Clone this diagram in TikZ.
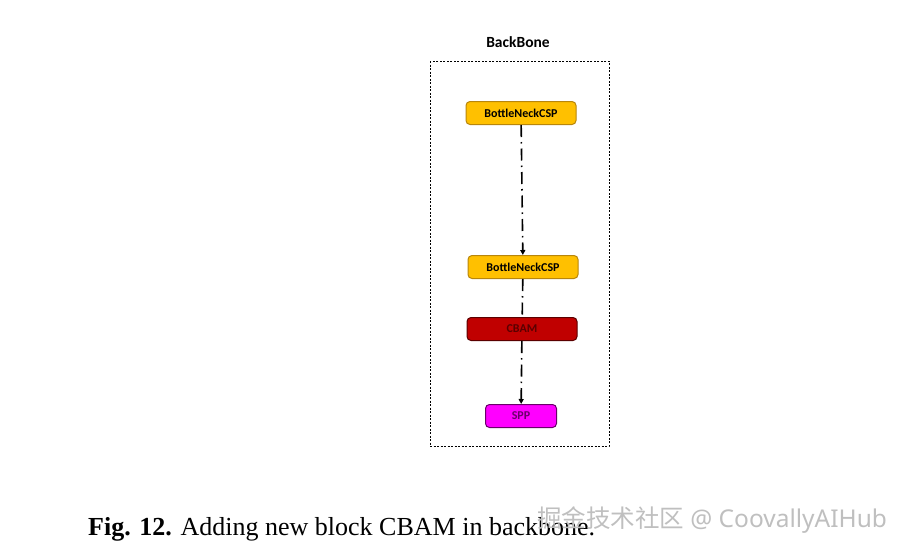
\documentclass[tikz,border=0pt]{standalone}
\usepackage{fontspec}
\setmainfont{Liberation Serif}
\newfontfamily\boxfont{Carlito}
\newfontfamily\cjkfont{Noto Sans CJK SC}
\newfontfamily\markfont{Noto Sans}
\usetikzlibrary{arrows.meta}
\definecolor{bnfill}{HTML}{FFC000}
\definecolor{bndraw}{HTML}{B8860B}
\definecolor{cbamfill}{HTML}{C00000}
\definecolor{cbamtext}{HTML}{5A0000}
\definecolor{sppfill}{HTML}{FF00FF}
\definecolor{spptext}{HTML}{6A006A}
\tikzset{
  block/.style={draw=bndraw,fill=bnfill,rounded corners=4pt,line width=1pt,
    minimum width=110pt,minimum height=23pt,inner sep=0pt,
    font=\boxfont\bfseries\fontsize{12}{13}\selectfont},
  link/.style={line width=1.6pt,dash pattern=on 12pt off 5pt on 1.5pt off 5pt},
  linkarrow/.style={link,-{Triangle[length=5pt,width=5pt]}}
}
\begin{document}
\begin{tikzpicture}[x=1pt,y=-1pt]
\useasboundingbox (0,0) rectangle (906,550);
\node[font=\boxfont\bfseries\fontsize{15.5}{16}\selectfont] (title) at (518,42) {BackBone};
\draw[dashed,dash pattern=on 2pt off 1.5pt,line width=0.6pt] (430,61) rectangle (609,446);

\node[block] (bn1) at (521,113) {BottleNeckCSP};
\node[block] (bn2) at (523,267) {BottleNeckCSP};
\node[block,draw=cbamtext,fill=cbamfill,text=cbamtext] (cbam) at (522,329) {CBAM};
\node[block,draw=spptext,fill=sppfill,text=spptext,minimum width=71pt] (spp) at (521,416) {SPP};

\draw[linkarrow] (bn1) -- (bn2);
\draw[link] (bn2) -- (cbam);
\draw[linkarrow] (cbam) -- (spp);

\node[anchor=base west,font=\fontsize{26}{28}\selectfont,inner sep=0pt] (caption) at (88,535) {\textbf{Fig. 12.} Adding new block CBAM in backbone.};
\node[anchor=base west,font=\fontsize{24.5}{26}\selectfont,inner sep=0pt,text=black!25] (mark) at (537,527) {{\cjkfont 掘金技术社区} {\markfont @ CoovallyAIHub}};
\end{tikzpicture}
\end{document}
